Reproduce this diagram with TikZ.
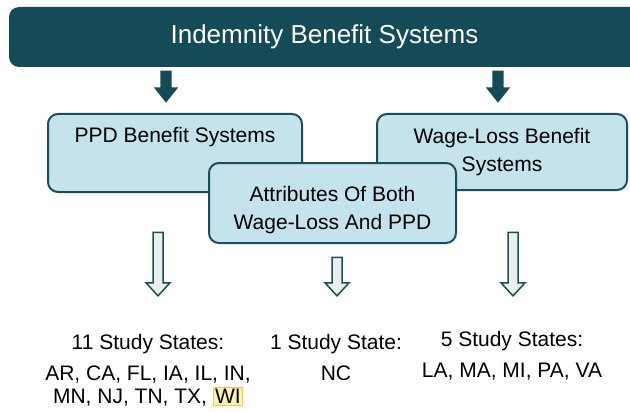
\documentclass[tikz,border=0pt]{standalone}
\usepackage{fontspec}
\setmainfont{Liberation Sans}
\usetikzlibrary{positioning, shapes.arrows}

\definecolor{barteal}{HTML}{154B56}
\definecolor{edgeteal}{HTML}{1E4C57}
\definecolor{boxblue}{HTML}{C5E3EC}
\definecolor{hollowfill}{HTML}{E8EFEC}
\definecolor{markedge}{HTML}{F4CC55}
\definecolor{markfill}{HTML}{FDF1B4}

\newcommand{\marked}[1]{{\setlength{\fboxsep}{1pt}\setlength{\fboxrule}{1.2pt}\fcolorbox{markedge}{markfill}{#1}}}

\begin{document}
\begin{tikzpicture}[x=1pt, y=-1pt,
              banner/.style={fill=barteal, rounded corners=10pt, minimum width=631pt, minimum height=60pt, text=white, font=\fontsize{26}{30}\selectfont},
              sysbox/.style={draw=edgeteal, line width=2pt, fill=boxblue, rounded corners=10pt, align=center, font=\fontsize{21}{28}\selectfont},
              downarrow/.style={single arrow, shape border rotate=270, anchor=tip},
              solidarrow/.style={downarrow, fill=barteal, inner sep=5.5pt, single arrow head extend=6.5pt, minimum height=32pt, single arrow tip angle=77},
              openarrow/.style={downarrow, draw=edgeteal, line width=1.5pt, fill=hollowfill, inner sep=4.25pt, single arrow head extend=7pt, single arrow tip angle=85},
              states/.style={inner sep=0pt, align=center, font=\fontsize{21}{23}\selectfont}
            ]
            \useasboundingbox (0,0) rectangle (630,412);

            % Banner
            \node[banner] (title) at (324.5,37) {Indemnity Benefit Systems};

            % Benefit systems
            \node[sysbox, minimum width=254pt, minimum height=78pt] (ppd) at (175,153) {PPD Benefit Systems\\ \strut};
            \node[sysbox, minimum width=250pt, minimum height=76pt] (wage) at (502,152) {Wage-Loss Benefit\\Systems};
            \node[sysbox, minimum width=247pt, minimum height=80pt] (both) at (332.5,203) {\rule{0pt}{30pt}Attributes Of Both\\Wage-Loss And PPD};

            % Arrows from the banner
            \node[solidarrow] (toppd) at (166,103) {};
            \node[solidarrow] (towage) at (498,103) {};

            % Arrows to the states
            \node[openarrow, minimum height=63.5pt] (downppd) at (158,297) {};
            \node[openarrow, minimum height=38.5pt] (downboth) at (337,297) {};
            \node[openarrow, minimum height=63.5pt] (downwage) at (513,297) {};

            % Study states
            \node[states, anchor=base] (head11) at (148,349.5) {11 Study States:};
            \node[states, below=12pt of head11] (list11) {AR, CA, FL, IA, IL, IN,\\MN, NJ, TN, TX, \marked{WI}};
            \node[states, anchor=base] (head1) at (336,349.5) {1 Study State:};
            \node[states, below=12pt of head1] (list1) {NC};
            \node[states, anchor=base] (head5) at (512,346.5) {5 Study States:};
            \node[states, below=12pt of head5] (list5) {LA, MA, MI, PA, VA};

            \end{tikzpicture}
\end{document}
